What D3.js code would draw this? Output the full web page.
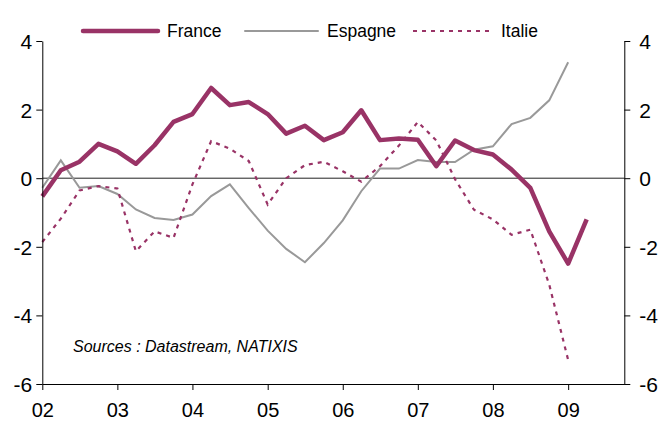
<!DOCTYPE html>
<meta charset="utf-8">
<style>
  body { margin: 0; background: #fff; }
  text { font-family: "Liberation Sans", Arial, sans-serif; fill: #000; }
</style>
<svg width="661" height="423"></svg>
<script src="https://cdn.jsdelivr.net/npm/d3@7/dist/d3.min.js"></script>
<script>

// quarters, 2002 T1 -> 2009 T2
var quarters = [
  "2002-01-01", "2002-04-01", "2002-07-01", "2002-10-01",
  "2003-01-01", "2003-04-01", "2003-07-01", "2003-10-01",
  "2004-01-01", "2004-04-01", "2004-07-01", "2004-10-01",
  "2005-01-01", "2005-04-01", "2005-07-01", "2005-10-01",
  "2006-01-01", "2006-04-01", "2006-07-01", "2006-10-01",
  "2007-01-01", "2007-04-01", "2007-07-01", "2007-10-01",
  "2008-01-01", "2008-04-01", "2008-07-01", "2008-10-01",
  "2009-01-01", "2009-04-01"
];

var france = [-0.53, 0.23, 0.48, 1.0, 0.78, 0.42, 0.96, 1.64, 1.87, 2.63,
              2.13, 2.22, 1.87, 1.3, 1.53, 1.11, 1.34, 1.98, 1.11, 1.16,
              1.12, 0.35, 1.1, 0.82, 0.69, 0.25, -0.28, -1.55, -2.49, -1.2];

var espagne = [-0.28, 0.52, -0.28, -0.23, -0.46, -0.91, -1.16, -1.22, -1.06, -0.52,
               -0.18, -0.87, -1.53, -2.06, -2.45, -1.89, -1.23, -0.38, 0.28, 0.28,
               0.53, 0.47, 0.47, 0.83, 0.93, 1.58, 1.76, 2.27, 3.38];

var italie = [-1.86, -1.18, -0.36, -0.23, -0.3, -2.13, -1.55, -1.74, -0.18, 1.08,
              0.86, 0.5, -0.77, 0.0, 0.38, 0.48, 0.2, -0.1, 0.35, 0.95,
              1.64, 1.1, -0.03, -0.92, -1.2, -1.65, -1.5, -3.1, -5.3];

var yearTicks = ["2002", "2003", "2004", "2005", "2006", "2007", "2008", "2009"];
var yearLabels = ["02", "03", "04", "05", "06", "07", "08", "09"];
var yTicks = [-6, -4, -2, 0, 2, 4];

var parse = d3.timeParse("%Y-%m-%d"),
    dates = quarters.map(parse);

var plum = "#993366",
    grey = "#999999";

var x = d3.scaleTime()
    .domain([parse("2002-01-01"), parse("2009-10-01")])
    .range([42.3, 624.3]);

var y = d3.scaleLinear()
    .domain([-6, 4])
    .range([384, 41]);

var svg = d3.select("svg");

// zero line
svg.append("line")
    .attr("x1", x.range()[0]).attr("x2", x.range()[1])
    .attr("y1", y(0)).attr("y2", y(0))
    .attr("stroke", "#222")
    .attr("stroke-width", 1);

var line = d3.line()
    .x(function(d, i) { return x(dates[i]); })
    .y(function(d) { return y(d); });

svg.append("path")
    .attr("d", line(espagne))
    .attr("fill", "none")
    .attr("stroke", grey)
    .attr("stroke-width", 2);

svg.append("path")
    .attr("d", line(italie))
    .attr("fill", "none")
    .attr("stroke", plum)
    .attr("stroke-width", 2.2)
    .attr("stroke-dasharray", "4,5");

svg.append("path")
    .attr("d", line(france))
    .attr("fill", "none")
    .attr("stroke", plum)
    .attr("stroke-width", 4.5)
    .attr("stroke-linejoin", "round");

// axes
var xAxis = d3.axisBottom(x)
    .tickValues(yearTicks.map(function(s) { return parse(s + "-01-01"); }))
    .tickFormat(function(d, i) { return yearLabels[i]; })
    .tickSizeInner(6)
    .tickSizeOuter(0)
    .tickPadding(13);

var gx = svg.append("g")
    .attr("transform", "translate(0," + y(-6) + ")")
    .call(xAxis);

var gl = svg.append("g")
    .attr("transform", "translate(" + x.range()[0] + ",0)")
    .call(d3.axisLeft(y).tickValues(yTicks).tickSizeInner(6).tickSizeOuter(0).tickPadding(4)
      .tickFormat(d3.format("d")));

var gr = svg.append("g")
    .attr("transform", "translate(" + x.range()[1] + ",0)")
    .call(d3.axisRight(y).tickValues(yTicks).tickSizeInner(6).tickSizeOuter(0).tickPadding(9)
      .tickFormat(d3.format("d")));

[gx, gl, gr].forEach(function(g) {
  g.selectAll("text")
      .style("font-size", "21px")
      .attr("font-family", null);
  g.selectAll("line, path").attr("stroke", "#000");
});
gx.selectAll("text").style("font-size", "20px");
gl.selectAll("text").attr("dy", "0.36em");
gr.selectAll("text").attr("dy", "0.36em");

// minus signs as plain hyphens like the original
svg.selectAll(".tick text").text(function() { return this.textContent.replace("\u2212", "-"); });

// legend
var legend = svg.append("g");
var items = [
  { name: "France", x1: 83, x2: 158, stroke: plum, width: 4.5, dash: null },
  { name: "Espagne", x1: 245, x2: 318, stroke: grey, width: 2, dash: null },
  { name: "Italie", x1: 413, x2: 492, stroke: plum, width: 2, dash: "4,5" }
];
items.forEach(function(it) {
  legend.append("line")
      .attr("x1", it.x1).attr("x2", it.x2)
      .attr("y1", 31).attr("y2", 31)
      .attr("stroke", it.stroke)
      .attr("stroke-width", it.width)
      .attr("stroke-linecap", it.dash ? "butt" : "round")
      .attr("stroke-dasharray", it.dash);
  legend.append("text")
      .attr("x", it.x2 + 9)
      .attr("y", 31)
      .attr("dy", "0.36em")
      .style("font-size", "17.5px")
      .text(it.name);
});

svg.append("text")
    .attr("x", 73)
    .attr("y", 352)
    .style("font-size", "16px")
    .style("font-style", "italic")
    .text("Sources : Datastream, NATIXIS");

</script>
